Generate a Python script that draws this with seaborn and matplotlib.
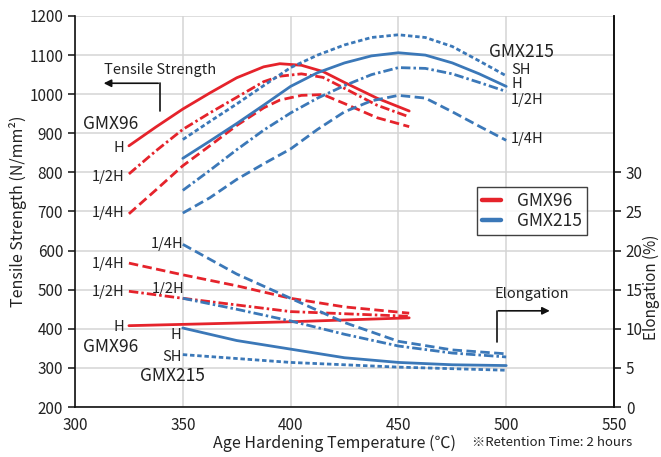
import matplotlib
matplotlib.use("Agg")
import matplotlib.pyplot as plt
from matplotlib.lines import Line2D
import seaborn as sns
import pandas as pd

# ---------------- data ----------------
temps_96 = [325, 337.5, 350, 362.5, 375, 387.5, 395, 405, 415, 425, 440, 455]
ts_96_H = [868, 916, 962, 1003, 1042, 1070, 1078, 1074, 1058, 1030, 990, 957]
ts_96_12H = [796, 855, 910, 952, 992, 1032, 1046, 1052, 1043, 1015, 972, 942]
ts_96_14H = [694, 755, 817, 868, 920, 965, 985, 997, 999, 976, 940, 917]

temps_215 = [350, 362.5, 375, 387.5, 400, 412.5, 425, 437.5, 450, 462.5, 475, 487.5, 500]
ts_215_SH = [884, 930, 975, 1022, 1068, 1100, 1126, 1145, 1152, 1145, 1122, 1085, 1047]
ts_215_H = [836, 880, 925, 972, 1020, 1055, 1080, 1098, 1106, 1100, 1080, 1052, 1020]
ts_215_12H = [754, 805, 858, 908, 952, 990, 1022, 1050, 1068, 1066, 1052, 1030, 1007]
ts_215_14H = [696, 735, 782, 822, 860, 910, 955, 983, 997, 990, 955, 918, 882]

el_temps_96_H = [325, 400, 455]
el_96_H = [10.4, 10.9, 11.4]
el_temps_96_12H = [325, 350, 400, 455]
el_96_12H = [14.8, 13.9, 12.2, 11.6]
el_temps_96_14H = [325, 350, 375, 400, 425, 455]
el_96_14H = [18.4, 16.9, 15.5, 13.9, 12.8, 12.0]

el_temps_215 = [350, 375, 400, 425, 450, 475, 500]
el_215_14H = [20.8, 17.0, 13.9, 10.8, 8.4, 7.3, 6.8]
el_215_12H = [13.9, 12.5, 11.0, 9.3, 7.8, 6.9, 6.4]
el_215_H = [10.1, 8.5, 7.4, 6.3, 5.7, 5.4, 5.3]
el_temps_215_SH = [350, 400, 450, 500]
el_215_SH = [6.7, 5.7, 5.1, 4.7]

alloys = ["GMX96", "GMX215"]
x_ticks = [300, 350, 400, 450, 500, 550]
ts_ticks = [200, 300, 400, 500, 600, 700, 800, 900, 1000, 1100, 1200]
el_ticks = [0, 5, 10, 15, 20, 25, 30]

# ---------------- tables ----------------
def rows(alloy, temper, xs, ys):
    return [dict(alloy=alloy, temper=temper, temp=x, value=y) for x, y in zip(xs, ys)]

ts_rows = (rows("GMX96", "H", temps_96, ts_96_H) + rows("GMX96", "1/2H", temps_96, ts_96_12H)
           + rows("GMX96", "1/4H", temps_96, ts_96_14H)
           + rows("GMX215", "SH", temps_215, ts_215_SH) + rows("GMX215", "H", temps_215, ts_215_H)
           + rows("GMX215", "1/2H", temps_215, ts_215_12H) + rows("GMX215", "1/4H", temps_215, ts_215_14H))
el_rows = (rows("GMX96", "H", el_temps_96_H, el_96_H) + rows("GMX96", "1/2H", el_temps_96_12H, el_96_12H)
           + rows("GMX96", "1/4H", el_temps_96_14H, el_96_14H)
           + rows("GMX215", "SH", el_temps_215_SH, el_215_SH) + rows("GMX215", "H", el_temps_215, el_215_H)
           + rows("GMX215", "1/2H", el_temps_215, el_215_12H) + rows("GMX215", "1/4H", el_temps_215, el_215_14H))
df_ts = pd.DataFrame(ts_rows)
df_el = pd.DataFrame(el_rows)

# ---------------- style ----------------
sns.set_style("white")
plt.rcParams['font.family'] = ['Noto Sans CJK JP', 'DejaVu Sans']
plt.rcParams['axes.unicode_minus'] = False

RED = "#e5232b"
BLUE = "#3b78b8"
palette = {"GMX96": RED, "GMX215": BLUE}
dashes = {"H": "", "1/2H": (3.4, 1.1, 0.9, 1.1), "1/4H": (3.4, 1.6), "SH": (1.6, 1.0)}
TXT = "#222222"

fig = plt.figure(figsize=(6.61, 4.57), dpi=100)
ax = fig.add_axes([0.1135, 0.1094, 0.8154, 0.8556])

sns.lineplot(data=df_ts, x="temp", y="value", hue="alloy", style="temper", palette=palette,
             dashes=dashes, sort=False, estimator=None, linewidth=2.0, legend=False, ax=ax)

ax.set_xlim(300, 550)
ax.set_ylim(200, 1200)
ax.set_xticks(x_ticks)
ax.set_yticks(ts_ticks)
ax.grid(True, color="#d4d4d4", linewidth=1.1)
ax.set_axisbelow(True)
for s in ["left", "bottom", "right"]:
    ax.spines[s].set_color("#111111")
    ax.spines[s].set_linewidth(1.2)
ax.spines["top"].set_visible(False)
ax.tick_params(axis="both", direction="out", length=5, width=1.1, colors="#111111",
               labelsize=11, labelcolor=TXT)
ax.tick_params(axis="x", pad=2)
ax.set_xlabel("Age Hardening Temperature (℃)", fontsize=11.5, color=TXT)
ax.xaxis.set_label_coords(0.482, -0.092)
ax.xaxis.label.set_va("center")
ax.set_ylabel("Tensile Strength (N/mm²)", fontsize=11.5, color=TXT)
ax.yaxis.set_label_coords(-0.105, 0.5)
ax.yaxis.label.set_va("center")

ax2 = ax.twinx()
sns.lineplot(data=df_el, x="temp", y="value", hue="alloy", style="temper", palette=palette,
             dashes=dashes, sort=False, estimator=None, linewidth=2.0, legend=False, ax=ax2)
ax2.set_ylim(0, 50)
ax2.set_yticks(el_ticks)
ax2.set_xlim(300, 550)
for s in ["left", "bottom", "top"]:
    ax2.spines[s].set_visible(False)
ax2.spines["right"].set_color("#111111")
ax2.spines["right"].set_linewidth(1.2)
ax2.tick_params(axis="y", direction="out", length=5, width=1.1, colors="#111111",
                labelsize=11, labelcolor=TXT)
ax2.set_ylabel("Elongation (%)", fontsize=11, color=TXT)
ax2.yaxis.set_label_coords(1.069, 0.305)
ax2.yaxis.label.set_va("center")
ax2.set_xlabel("")

# ---------------- annotations (left-axis data coords) ----------------
fs = 10.5
def t(x, y, s, ha="center", size=fs):
    ax.text(x, y, s, ha=ha, va="center", fontsize=size, color=TXT)

t(339.4, 1062, "Tensile Strength")
ax.plot([339.4, 339.4], [957, 1028], color="#111111", lw=1.2)
ax.annotate("", xy=(312.0, 1028), xytext=(339.9, 1028),
            arrowprops=dict(arrowstyle="-|>", color="#111111", lw=1.2, mutation_scale=11))

t(511.8, 488, "Elongation")
ax.plot([495.6, 495.6], [367, 446], color="#111111", lw=1.2)
ax.annotate("", xy=(521.5, 446), xytext=(495.1, 446),
            arrowprops=dict(arrowstyle="-|>", color="#111111", lw=1.2, mutation_scale=11))

big = 12.5
t(316.5, 925, "GMX96", size=big)
t(323.0, 862, "H", ha="right")
t(323.0, 787, "1/2H", ha="right")
t(323.0, 695, "1/4H", ha="right")

t(507.2, 1108, "GMX215", size=big)
t(502.3, 1061, "SH", ha="left")
t(502.3, 1025, "H", ha="left")
t(502.3, 985, "1/2H", ha="left")
t(502.3, 885, "1/4H", ha="left")

t(350.2, 617, "1/4H", ha="right")
t(323.0, 567, "1/4H", ha="right")
t(323.0, 493, "1/2H", ha="right")
t(351.0, 501, "1/2H", ha="right")
t(323.0, 405, "H", ha="right")
t(316.6, 354, "GMX96", size=big)
t(349.5, 384, "H", ha="right")
t(349.5, 329, "SH", ha="right")
t(345.2, 279, "GMX215", size=big)

fig.text(0.957, 1 - 443 / 457, "※Retention Time: 2 hours", ha="right", va="center",
         fontsize=9.5, color=TXT)

handles = [Line2D([0], [0], color=palette[a], lw=3.2) for a in alloys]
leg = ax2.legend(handles, alloys, loc="upper left", bbox_to_anchor=(0.746, 0.563),
                 frameon=True, fancybox=False, fontsize=12.5, handlelength=1.1,
                 borderpad=0.3, labelspacing=0.1, handletextpad=0.9, borderaxespad=0)
leg.get_frame().set_edgecolor("#111111")
leg.get_frame().set_linewidth(1.0)

fig.savefig("out.png", dpi=100)
